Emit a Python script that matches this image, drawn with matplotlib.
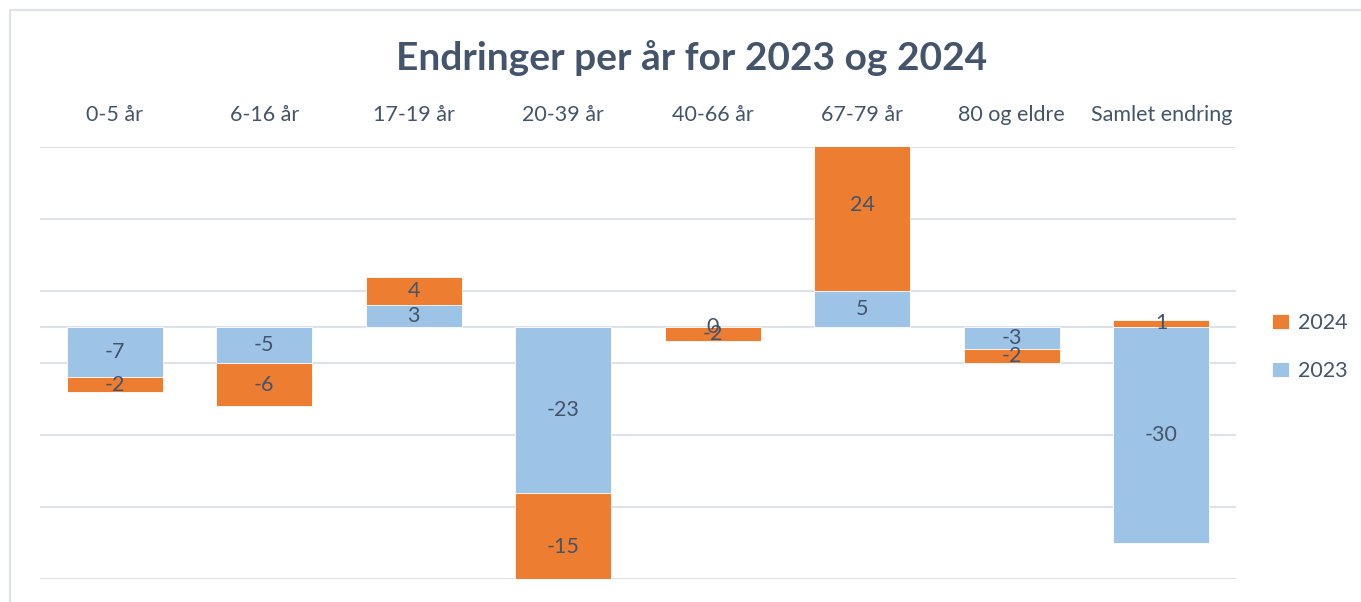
import matplotlib.pyplot as plt
from matplotlib.patches import Rectangle
import numpy as np

categories = ["0-5 år", "6-16 år", "17-19 år", "20-39 år", "40-66 år",
              "67-79 år", "80 og eldre", "Samlet endring"]
v2023 = [-7, -5, 3, -23, 0, 5, -3, -30]
v2024 = [-2, -6, 4, -15, -2, 24, -2, 1]

text_col = "#44546A"
blue = "#9DC3E6"
orange = "#ED7D31"
grid_col = "#DDE2E9"

plt.rcParams['font.family'] = ['Lato', 'DejaVu Sans']

fig = plt.figure(figsize=(13.61, 6.02), dpi=100)
ax = fig.add_axes([40 / 1361, 23 / 602, 1196 / 1361, 432 / 602])

# chart frame (only left/top visible in the crop)
fig.patches.append(Rectangle((9.5 / 1361, -0.1), 1.5, 1 - 9.5 / 602 + 0.1,
                             transform=fig.transFigure, fill=False,
                             edgecolor=grid_col, linewidth=1.5))

x = np.arange(len(categories))
a = np.array(v2023, dtype=float)
b = np.array(v2024, dtype=float)
# excel style stacking: positives and negatives stack separately
bottom2024 = np.where(a * b > 0, a, 0)

w = 0.64
ax.bar(x, a, w, color=blue, edgecolor="white", linewidth=0.6, label="2023", zorder=2)
ax.bar(x, b, w, bottom=bottom2024, color=orange, edgecolor="white", linewidth=0.6,
       label="2024", zorder=2)

for i in range(len(x)):
    ax.text(x[i], a[i] / 2, f"{v2023[i]}", ha="center", va="center",
            fontsize=15.5, color=text_col, zorder=3)
    ax.text(x[i], bottom2024[i] + b[i] / 2, f"{v2024[i]}", ha="center", va="center",
            fontsize=15.5, color=text_col, zorder=3, clip_on=True)

ax.set_xlim(-0.5, len(categories) - 0.5)
ax.set_ylim(-35, 25)
ax.set_yticks([-35, -25, -15, -5, 5, 15, 25])
ax.yaxis.grid(True, color=grid_col, linewidth=1.5, zorder=0)
ax.axhline(0, color=grid_col, linewidth=1.5, zorder=1)
ax.set_axisbelow(True)
ax.tick_params(axis="y", left=False, labelleft=False)

ax.xaxis.tick_top()
ax.set_xticks(x)
ax.set_xticklabels(categories, fontsize=15.5, color=text_col)
ax.tick_params(axis="x", top=False, pad=12)
for s in ax.spines.values():
    s.set_visible(False)

fig.text(692 / 1361, 1 - 58 / 602, "Endringer per år for 2023 og 2024",
         ha="center", va="center", fontsize=28, fontweight="bold", color=text_col)

handles, labels = ax.get_legend_handles_labels()
leg = fig.legend(handles[::-1], labels[::-1], loc="center left",
                 bbox_to_anchor=(1253 / 1361, 1 - 347 / 602), frameon=False,
                 fontsize=15.5, labelcolor=text_col, handlelength=0.75, handleheight=0.75,
                 labelspacing=1.3, handletextpad=0.45)

fig.savefig("out.png", dpi=100, facecolor="white")
